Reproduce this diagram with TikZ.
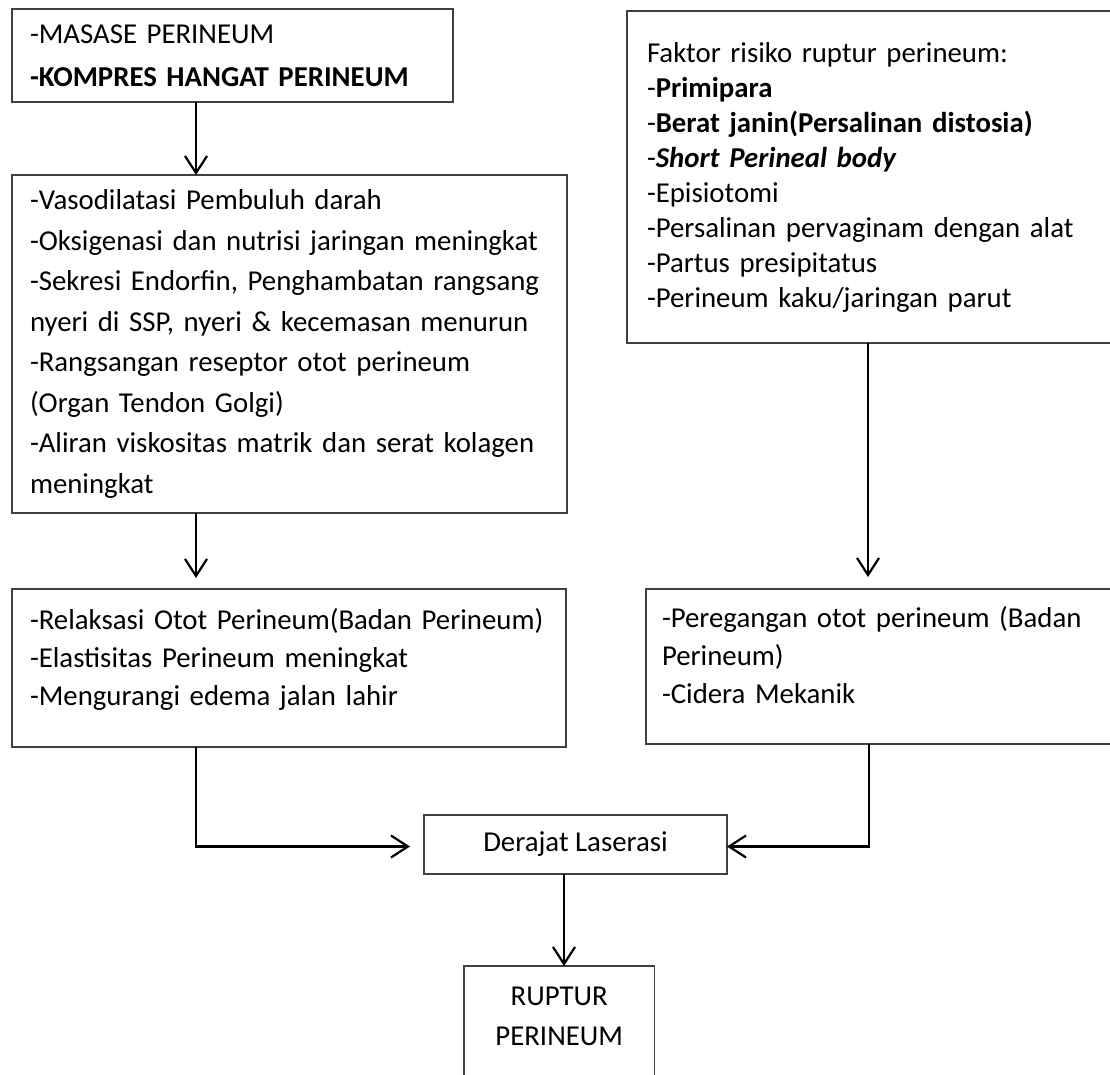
\documentclass[tikz,border=0pt]{standalone}
\usepackage{fontspec}
\setmainfont{Carlito}
\usepackage{tikz}
\usetikzlibrary{arrows.meta}

\begin{document}
\begin{tikzpicture}[x=1pt,y=-1pt,
    kotak/.style={draw=black!75, line width=1.1pt, anchor=north west, align=left,
      inner xsep=18pt, inner ysep=0pt, outer sep=0pt},
    panah/.style={line width=2.2pt, -{Straight Barb[length=17pt,width=22pt]}}]
        % bidang
        \clip (0,0) rectangle (1110,1074);

        % kotak kiri
        \node[kotak, text width=405pt, minimum height=93pt,
          font=\fontsize{28.8}{43}\selectfont] (masase) at (12,9)
          {-MASASE PERINEUM\\\textbf{-KOMPRES HANGAT PERINEUM}};
        \node[kotak, text width=519pt, minimum height=338pt,
          font=\fontsize{28.8}{40.5}\selectfont] (efek) at (12,175)
          {-Vasodilatasi Pembuluh darah\\
           -Oksigenasi dan nutrisi jaringan meningkat\\
           -Sekresi Endorfin, Penghambatan rangsang\\
           nyeri di SSP, nyeri \& kecemasan menurun\\
           -Rangsangan reseptor otot perineum\\
           (Organ Tendon Golgi)\\
           -Aliran viskositas matrik dan serat kolagen\\
           meningkat};
        \node[kotak, text width=518pt, minimum height=158pt, text depth=99pt,
          font=\fontsize{28.8}{38}\selectfont] (relaks) at (12,589)
          {-Relaksasi Otot Perineum(Badan Perineum)\\
           -Elastisitas Perineum meningkat\\
           -Mengurangi edema jalan lahir};

        % kotak kanan
        \node[kotak, inner xsep=20pt, text width=473pt, minimum height=332pt,
          font=\fontsize{28.8}{35}\selectfont] (faktor) at (627,11)
          {Faktor risiko ruptur perineum:\\
           -\textbf{Primipara}\\
           -\textbf{Berat janin(Persalinan distosia)}\\
           -\textbf{\textit{Short Perineal body}}\\
           -Episiotomi\\
           -Persalinan pervaginam dengan alat\\
           -Partus presipitatus\\
           -Perineum kaku/jaringan parut};
        \node[kotak, inner xsep=16pt, text width=462pt, minimum height=155pt, text depth=99pt,
          font=\fontsize{28.8}{38}\selectfont] (regang) at (646,589)
          {-Peregangan otot perineum (Badan\\
           Perineum)\\
           -Cidera Mekanik};

        % hasil
        \node[kotak, align=center, inner xsep=0pt, minimum width=303pt, minimum height=59pt,
          font=\fontsize{28.8}{34}\selectfont] (derajat) at (424,815) {Derajat Laserasi};
        \node[anchor=north west, align=center, inner sep=0pt, minimum width=190pt,
          minimum height=100pt, font=\fontsize{28.8}{40}\selectfont] (ruptur) at (464,966)
          {RUPTUR\\PERINEUM};
        \draw[draw=black!75, line width=1.1pt] ([yshift=-30pt]ruptur.south west)
          -- (ruptur.north west) -- (ruptur.north east) -- ([yshift=-30pt]ruptur.south east);

        % panah
        \draw[panah] ([xshift=184pt]masase.south west) -- ([xshift=184pt]efek.north west);
        \draw[panah] ([xshift=184pt]efek.south west) -- ([xshift=184pt,yshift=11pt]relaks.north west);
        \draw[panah] ([xshift=241pt]faktor.south west) -- ([xshift=222pt,yshift=12pt]regang.north west);
        \draw[panah] ([xshift=184pt]relaks.south west) |- ([xshift=-14pt,yshift=-2pt]derajat.west);
        \draw[panah] ([xshift=223pt]regang.south west) |- ([yshift=-2pt]derajat.east);
        \draw[panah] ([xshift=140pt]derajat.south west) -- ([xshift=100pt]ruptur.north west);
      \end{tikzpicture}
\end{document}
